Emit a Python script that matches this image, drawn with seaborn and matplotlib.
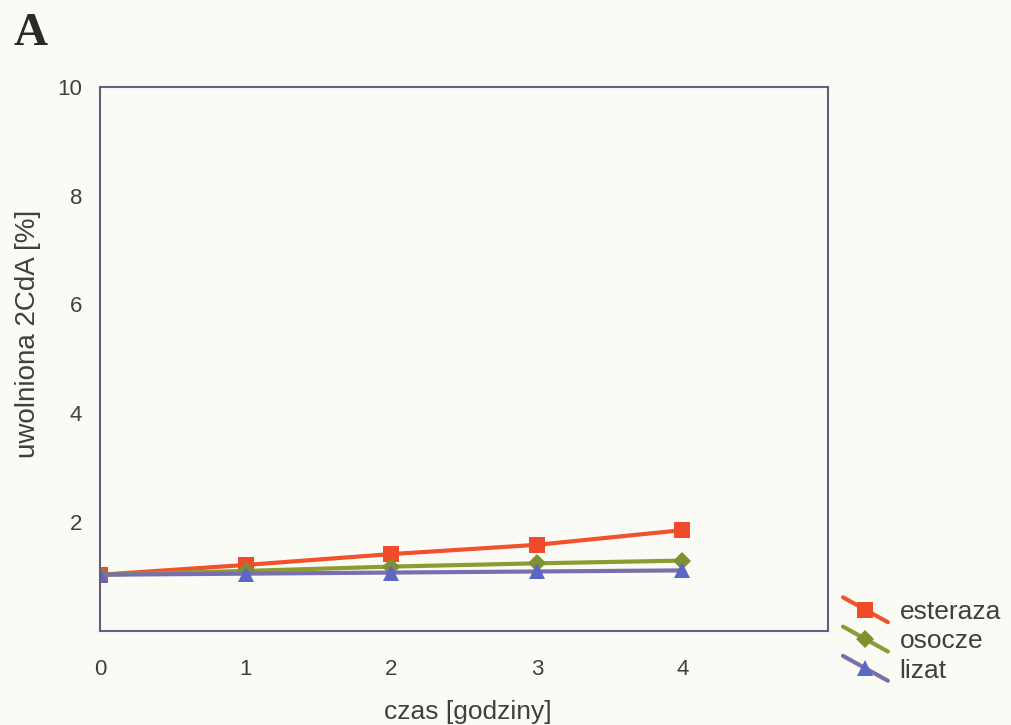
import numpy as np
import pandas as pd
import matplotlib
matplotlib.use("Agg")
import matplotlib.pyplot as plt
import seaborn as sns
from matplotlib.lines import Line2D
from matplotlib.legend_handler import HandlerLine2D

# data
hours = [0, 1, 2, 3, 4]
esteraza = [1.03, 1.21, 1.41, 1.58, 1.85]
osocze = [1.03, 1.10, 1.18, 1.24, 1.29]
lizat = [1.03, 1.05, 1.07, 1.09, 1.11]
esteraza_err = [0.0, 0.02, 0.03, 0.03, 0.06]

series_names = ["esteraza", "osocze", "lizat"]
colors = ["#f0522c", "#8c9c32", "#7a6fae"]
marker_colors = ["#f04a2a", "#7f9030", "#5a68c4"]
markers = ["s", "D", "^"]
msizes = [12, 9, 11]

sns.set_style("white")
plt.rcParams["font.family"] = ["Liberation Sans", "DejaVu Sans"]

df = pd.DataFrame({
    "czas": hours * 3,
    "value": esteraza + osocze + lizat,
    "seria": sum([[n] * len(hours) for n in series_names], []),
})


class SlantHandler(HandlerLine2D):
    """legend line drawn as a falling diagonal, like in the original"""
    def create_artists(self, legend, orig_handle, xdescent, ydescent,
                       width, height, fontsize, trans):
        arts = super().create_artists(legend, orig_handle, xdescent, ydescent,
                                      width, height, fontsize, trans)
        for a in arts:
            x = np.asarray(a.get_xdata(), dtype=float)
            if len(x) < 2:
                continue
            y0 = (height - ydescent) / 2
            t = (x - x.mean()) / (x.max() - x.min())
            a.set_ydata(y0 - t * height * 1.35)
        return arts


bg = "#fbfbf6"
fig = plt.figure(figsize=(10.11, 7.25), dpi=100, facecolor=bg)
ax = fig.add_axes([0.099, 0.130, 0.720, 0.750])
ax.set_facecolor(bg)

sns.lineplot(data=df, x="czas", y="value", hue="seria", style="seria",
             palette=colors, markers=markers, dashes=False, linewidth=3,
             markeredgewidth=0, ax=ax, legend=False)
for ln, mc, ms in zip(ax.lines, marker_colors, msizes):
    ln.set_markerfacecolor(mc)
    ln.set_markersize(ms)
ax.errorbar(hours, esteraza, yerr=esteraza_err, fmt="none",
            ecolor=colors[0], capsize=4, elinewidth=1.5, zorder=1)

ax.set_xlim(0, 5)
ax.set_ylim(0, 10)
ax.set_xticks([0, 1, 2, 3, 4])
ax.set_yticks([2, 4, 6, 8, 10])
ax.tick_params(direction="in", length=5, width=1.2, colors="#6b5c7b",
               labelcolor="#3f3f3f", labelsize=16)
ax.tick_params(axis="x", pad=20)
ax.tick_params(axis="y", pad=13)
for s in ax.spines.values():
    s.set_color("#6b5c7b")
    s.set_linewidth(1.5)

ax.set_xlabel("czas [godziny]", fontsize=19, color="#3f3f3f")
ax.set_ylabel("uwolniona 2CdA [%]", fontsize=20, color="#3f3f3f")
ax.xaxis.set_label_coords(0.505, -0.149)
ax.xaxis.label.set_va("center")
ax.yaxis.set_label_coords(-0.099, 0.546)
ax.yaxis.label.set_va("center")

# legend entries
handles = [Line2D([], [], color=c, marker=m, lw=3, markersize=ms,
                  markerfacecolor=mc, markeredgewidth=0)
           for c, mc, m, ms in zip(colors, marker_colors, markers, msizes)]
fig.legend(handles, series_names, loc="upper left",
           bbox_to_anchor=(843 / 1011, 1 - 600 / 725),
           frameon=False, fontsize=19, handlelength=1.7, labelspacing=0.2,
           handletextpad=0.45, borderpad=0, borderaxespad=0,
           labelcolor="#3f3f3f", handler_map={Line2D: SlantHandler()})

fig.text(0.013, 0.938, "A", fontsize=34, fontweight="bold",
         family=["Liberation Serif"], color="#2a2a2a")

fig.savefig("out.png", dpi=100, facecolor=bg)
